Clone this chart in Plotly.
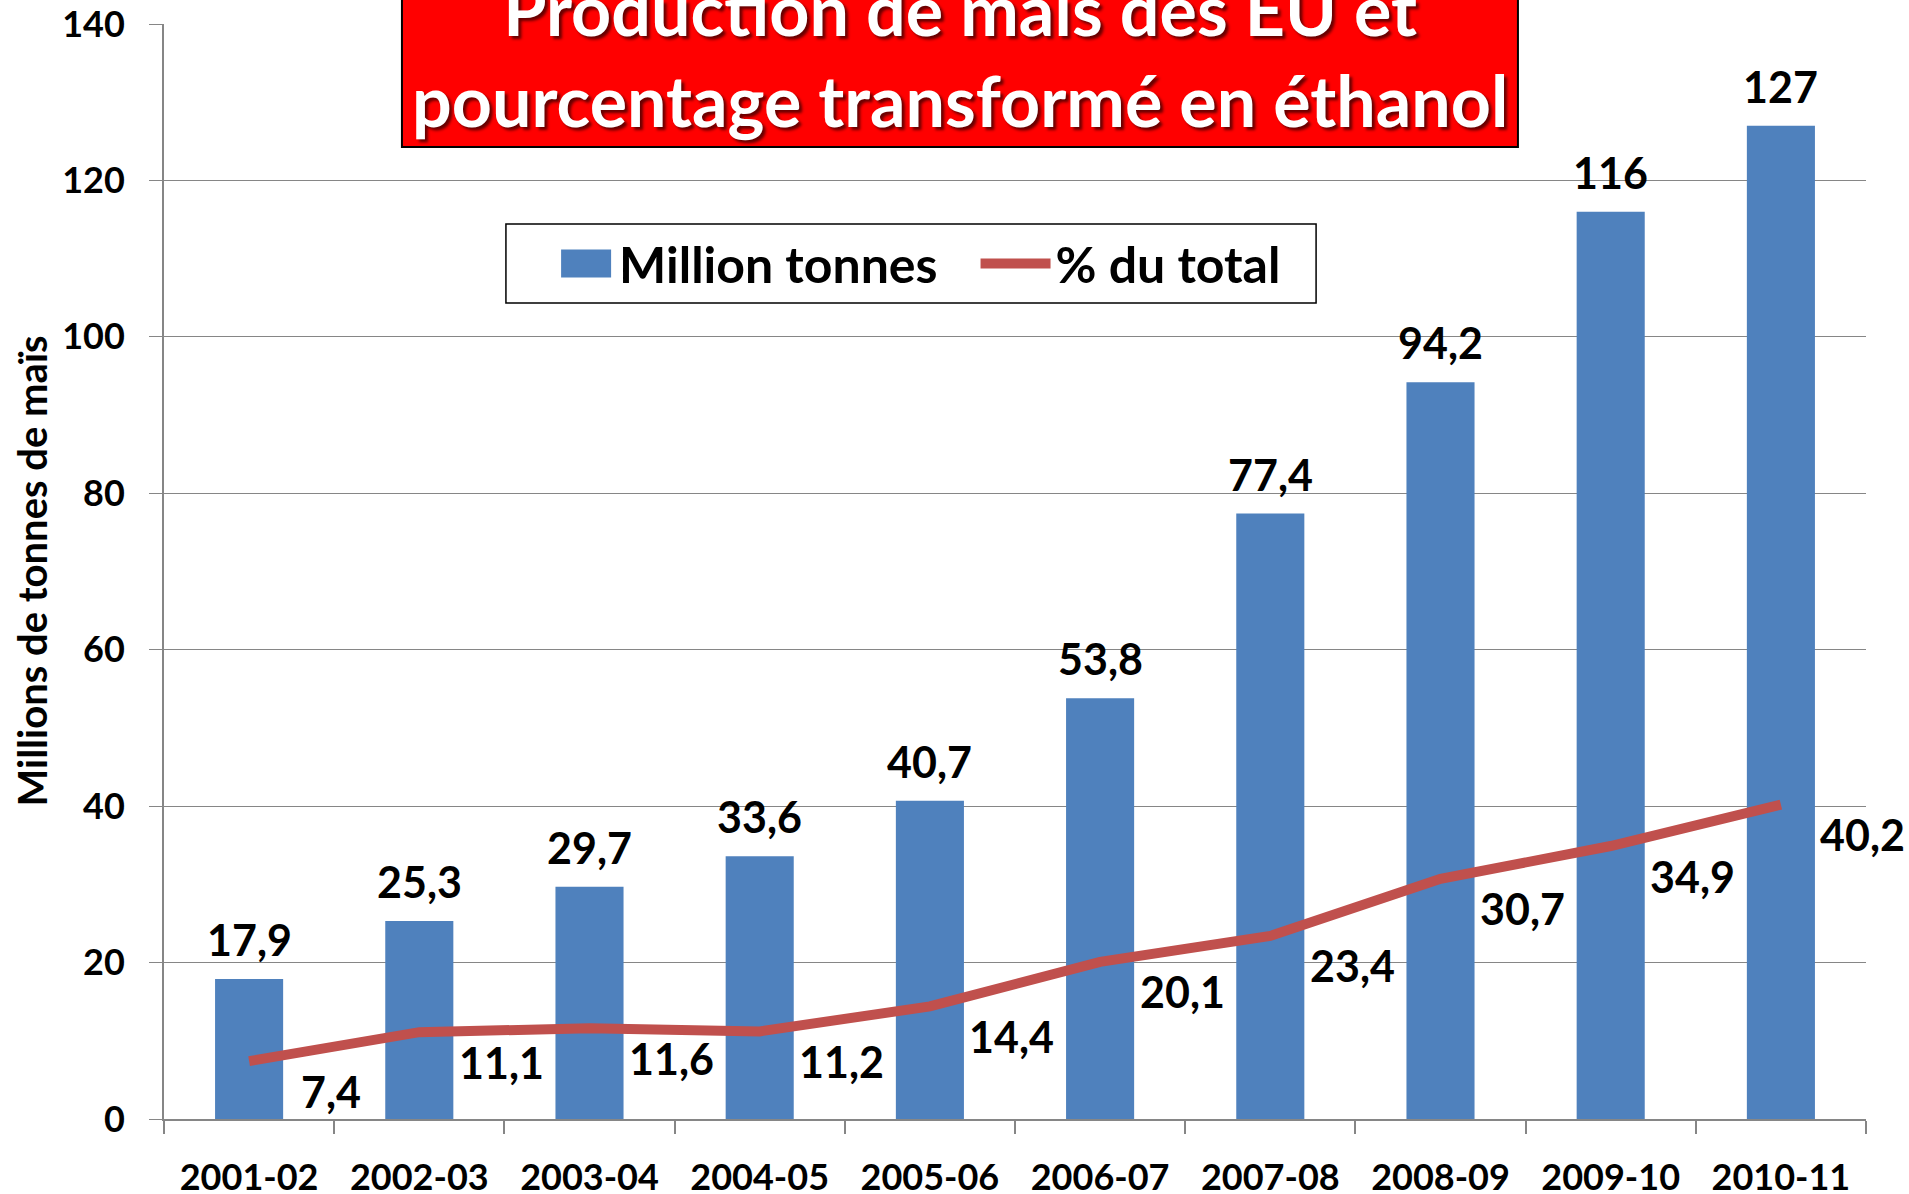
import plotly.graph_objects as go

# ---- data ----
categories = ["2001-02", "2002-03", "2003-04", "2004-05", "2005-06",
              "2006-07", "2007-08", "2008-09", "2009-10", "2010-11"]
production_mt = [17.9, 25.3, 29.7, 33.6, 40.7, 53.8, 77.4, 94.2, 116, 127]
pct_ethanol = [7.4, 11.1, 11.6, 11.2, 14.4, 20.1, 23.4, 30.7, 34.9, 40.2]
y_ticks = [0, 20, 40, 60, 80, 100, 120, 140]
series_names = ["Million tonnes", "% du total"]
title_lines = ["Production de maïs des EU et", "pourcentage transformé en éthanol"]
y_title = "Millions de tonnes de maïs"


def fr(v):
    return f"{v:g}".replace(".", ",")


FONT = "Lato"
BLUE = "#4F81BD"
RED = "#C0504D"
GREY = "#868686"

fig = go.Figure()
fig.add_trace(go.Bar(x=categories, y=production_mt, name=series_names[0],
                     marker=dict(color=BLUE, line=dict(width=0)), width=0.4))
fig.add_trace(go.Scatter(x=categories, y=pct_ethanol, name=series_names[1],
                         mode="lines", line=dict(color=RED, width=10)))

annotations = []
for c, v in zip(categories, production_mt):
    annotations.append(dict(x=c, y=v, xref="x", yref="y", text=fr(v), showarrow=False,
                            xanchor="center", yanchor="bottom", yshift=12,
                            font=dict(family=FONT, size=43, color="black", weight="bold")))
for c, v in zip(categories, pct_ethanol):
    annotations.append(dict(x=c, y=v, xref="x", yref="y", text=fr(v), showarrow=False,
                            xanchor="center", yanchor="middle", xshift=82, yshift=-30,
                            font=dict(family=FONT, size=43, color="black", weight="bold")))
# y axis title
annotations.append(dict(x=0, y=0.5, xref="paper", yref="paper", text=y_title, textangle=-90,
                        showarrow=False, xanchor="center", yanchor="middle", xshift=-133,
                        font=dict(family=FONT, size=40, color="black", weight="bold")))
# chart title
annotations.append(dict(x=0.4677, y=0.9725, xref="paper", yref="paper",
                        text="<br>".join(title_lines), showarrow=False,
                        xanchor="center", yanchor="middle",
                        font=dict(family=FONT, size=70, color="white", weight="bold",
                                  shadow="3px 3px 3px rgba(0,0,0,0.6)")))

fig.update_layout(
    width=1909, height=1194,
    margin=dict(l=164, r=43, t=24, b=75, pad=0),
    paper_bgcolor="white", plot_bgcolor="white",
    font=dict(family=FONT, size=36, color="black", weight="bold"),
    showlegend=True,
    legend=dict(orientation="h", x=0.201, y=0.817, xanchor="left", yanchor="top",
                bgcolor="rgba(0,0,0,0)", borderwidth=0,
                font=dict(family=FONT, size=50, color="black", weight="bold"),
                itemwidth=70, indentation=33),
    shapes=[
        # title box
        dict(type="rect", xref="paper", yref="paper", x0=0.1398, x1=0.7955,
             y0=0.8877, y1=1.1, fillcolor="#FF0000", line=dict(color="black", width=2),
             layer="above"),
        # legend frame
        dict(type="rect", xref="paper", yref="paper", x0=0.2009, x1=0.6769,
             y0=0.7452, y1=0.8174, fillcolor="white", line=dict(color="black", width=1.5),
             layer="above"),
    ],
    annotations=annotations,
    xaxis=dict(type="category", range=[-0.5, len(categories) - 0.5], autorange=False,
               tickson="boundaries", ticks="outside", ticklen=13,
               tickcolor=GREY, tickwidth=2, showline=True, linecolor=GREY, linewidth=2,
               showgrid=False, ticklabelstandoff=26, automargin=False,
               tickfont=dict(family=FONT, size=36, color="black", weight="bold")),
    yaxis=dict(range=[0, 140], tickvals=y_ticks, ticktext=[str(t) for t in y_ticks],
               showgrid=True, gridcolor=GREY, gridwidth=1, zeroline=False,
               showline=True, linecolor=GREY, linewidth=2, ticks="outside", ticklen=13,
               tickcolor=GREY, tickwidth=1, ticklabelstandoff=17, automargin=False,
               tickfont=dict(family=FONT, size=36, color="black", weight="bold")),
)

# enlarge the bar swatch in the legend to a wide rectangle like the original
post_js = (
    "document.body.style.margin='0';document.body.style.overflow='hidden';"
    "var gd=document.querySelector('.plotly-graph-div');"
    "var fixLegend=function(){"
    "var tr=gd.querySelectorAll('g.legend g.traces');"
    "if(tr.length){tr[0].querySelectorAll('g.legendpoints path').forEach("
    "function(p){p.setAttribute('d','M32,14H-18V-14H32Z');});}"
    "};"
    "try{fixLegend();}catch(e){}"
    "setTimeout(fixLegend,50);setTimeout(fixLegend,300);"
    "if(gd.on){gd.on('plotly_afterplot',fixLegend);}"
)

fig.write_html("out.html", config={"displayModeBar": False}, post_script=post_js)
